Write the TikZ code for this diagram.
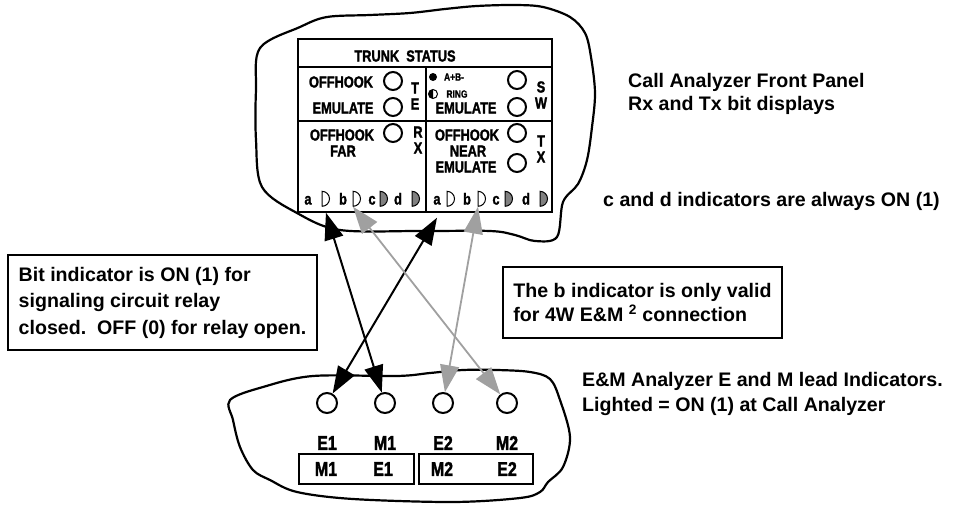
\documentclass[tikz,border=0pt]{standalone}
\usepackage{fontspec}
\setmainfont{Liberation Sans}
\newfontfamily\narrowfont[FakeStretch=0.8, FakeBold=1.6]{Liberation Sans Bold}
\usetikzlibrary{arrows.meta}
\definecolor{ledgray}{RGB}{128,128,128}
\definecolor{wiregray}{RGB}{160,160,160}
\tikzset{
	blob/.style={line width=2.2pt},
	lamp/.style={circle, draw, line width=2pt, minimum size=18pt, inner sep=0pt},
	bigkamp/.style={lamp, minimum size=20pt},
	bit/.style={minimum width=7.5pt, minimum height=15pt, inner sep=0pt, anchor=west},
	pnl/.style={font=\narrowfont\fontsize{16}{17}\selectfont, inner sep=0pt, text height=11pt, text depth=0pt},
	tiny/.style={font=\narrowfont\fontsize{10.5}{11}\selectfont, inner sep=0pt},
	lead/.style={font=\narrowfont\fontsize{20}{21}\selectfont, inner sep=0pt},
	txt/.style={font=\bfseries\fontsize{19.6}{23}\selectfont, align=left, inner sep=0pt},
	note/.style={txt, draw, line width=2pt, inner sep=0pt},
	sig/.style={{Triangle[length=27pt,width=19pt]}-{Triangle[length=27pt,width=19pt]}, line width=2pt}
}
\begin{document}
\begin{tikzpicture}[x=1pt,y=-1pt]
		\useasboundingbox (0,0) rectangle (964,506);
		% front panel outline
		\draw[blob] plot[smooth cycle, tension=0.55] coordinates {(260,48) (300,27) (327,17) (370,15) (410,13) (445,9) (477,6) (515,5) (543,7) (570,17) (585,33) (591,57) (595,93) (592,127) (587,160) (578,184) (563,202) (557,237) (535,241) (515,235) (490,231) (420,231) (340,230) (297,213) (262,187) (256,140) (256,90)};
		\draw[line width=1.2pt] (298,39) rectangle (552,212);
		\draw[line width=1.2pt] (298,67) -- (552,67) (298,121) -- (552,121) (426,67) -- (426,212);
		\node[pnl] (title) at (405,56) {TRUNK\ \ STATUS};
		% TE cell
		\node[pnl] (teoff) at (341,82) {OFFHOOK};
		\node[pnl] (teemu) at (343,108) {EMULATE};
		\node[lamp] (teoffl) at (393,81) {};
		\node[lamp] (teemul) at (393,107) {};
		\node[pnl] at (415,88) {T};
		\node[pnl] at (415,104) {E};
		% SW cell
		\fill (433,77) circle[radius=4pt];
		\draw[line width=1pt] (433,94) circle[radius=4.5pt];
		\fill (433,94) ++(90:4.5pt) arc[start angle=90, end angle=270, radius=4.5pt] -- cycle;
		\node[tiny] (ab) at (454,77) {A+B-};
		\node[tiny] (ring) at (457,94) {RING};
		\node[pnl] (swemu) at (466,108) {EMULATE};
		\node[lamp] (swl) at (517,80) {};
		\node[lamp] (swemul) at (517,107) {};
		\node[pnl] at (541,87) {S};
		\node[pnl] at (541,103) {W};
		% RX cell
		\node[pnl] (rxoff) at (342,135) {OFFHOOK};
		\node[pnl] (far) at (343,151) {FAR};
		\node[lamp] (rxl) at (393,133) {};
		\node[pnl] at (418,132) {R};
		\node[pnl] at (418,148) {X};
		% TX cell
		\node[pnl] (txoff) at (467,135) {OFFHOOK};
		\node[pnl] (near) at (468,151) {NEAR};
		\node[pnl] (txemu) at (466,167) {EMULATE};
		\node[lamp] (txl) at (517,133) {};
		\node[lamp] (txemul) at (517,163) {};
		\node[pnl] at (541,141) {T};
		\node[pnl] at (541,157) {X};
		% a b c d bit displays
		\foreach \nm/\lx/\x/\f in {a/308/322/white, b/343/353/white, c/372/380/ledgray, d/398/412/ledgray}{
			\node[pnl] at (\lx,199) {\nm};
			\node[bit] (rx\nm) at (\x,199) {};
			\filldraw[fill=\f, line width=1pt] (rx\nm.south west) -- (rx\nm.north west) arc[start angle=90, end angle=-90, radius=7.5pt] -- cycle;
		}
		\foreach \nm/\lx/\x/\f in {a/437/447/white, b/467/478/white, c/496/505/ledgray, d/526/540/ledgray}{
			\node[pnl] (tx\nm l) at (\lx,199) {\nm};
			\node[bit] (tx\nm) at (\x,199) {};
			\filldraw[fill=\f, line width=1pt] (tx\nm.south west) -- (tx\nm.north west) arc[start angle=90, end angle=-90, radius=7.5pt] -- cycle;
		}
		\coordinate (rxtip) at ([yshift=-6pt]rxa.south);
		\coordinate (txtip) at ([yshift=-13pt]txal.south);
		% E&M analyzer outline
		\draw[blob] plot[smooth cycle, tension=0.55] coordinates {(230,400) (263,387) (313,376) (397,376) (430,373) (463,370) (497,370) (530,372) (550,379) (560,400) (570,437) (563,467) (548,482) (540,492) (520,498) (453,502) (353,499) (297,492) (270,480) (253,470) (240,447) (233,420)};
		\foreach \nm/\x in {E1/327, M1/385, E2/443, M2/507}{
			\node[bigkamp] (c\nm) at (\x,403) {};
			\node[lead] (l\nm) at (\x,443) {\nm};
		}
		\draw[line width=2pt] (299,454) rectangle (414,484) (419,454) rectangle (533,484);
		\node[lead] (bM1) at (326,469) {M1};
		\node[lead] (bE1) at (383,469) {E1};
		\node[lead] (bM2) at (442,469) {M2};
		\node[lead] (bE2) at (507,469) {E2};
		% signal wires
		\draw[sig] (rxtip) -- (cM1);
		\draw[sig] (txtip) -- (cE1);
		\draw[sig, wiregray, line width=1.8pt] (rxb.south west) -- (cM2);
		\draw[sig, wiregray, line width=1.8pt] (txb.south west) -- (cE2);
		% notes
		\node[note, minimum width=309pt, minimum height=95pt, font=\bfseries\fontsize{19.6}{26.5}\selectfont] (relay) at (162.5,302.5) {Bit indicator is ON (1) for\\signaling circuit relay\\closed.~~OFF (0) for relay open.};
		\node[note, minimum width=279pt, minimum height=71pt, font=\bfseries\fontsize{19.6}{24.5}\selectfont] (valid) at (642.5,302.5) {The b indicator is only valid\\for 4W E\&M \textsuperscript{2} connection};
		\node[txt, anchor=west] (front) at (628,94) {Call Analyzer Front Panel\\Rx and Tx bit displays};
		\node[txt, anchor=west] (cd) at (603,201) {c and d indicators are always ON (1)};
		\node[txt, anchor=west, font=\bfseries\fontsize{19.6}{25}\selectfont] (emlead) at (582,394) {E\&M Analyzer E and M lead Indicators.\\Lighted = ON (1) at Call Analyzer};
	\end{tikzpicture}
\end{document}
